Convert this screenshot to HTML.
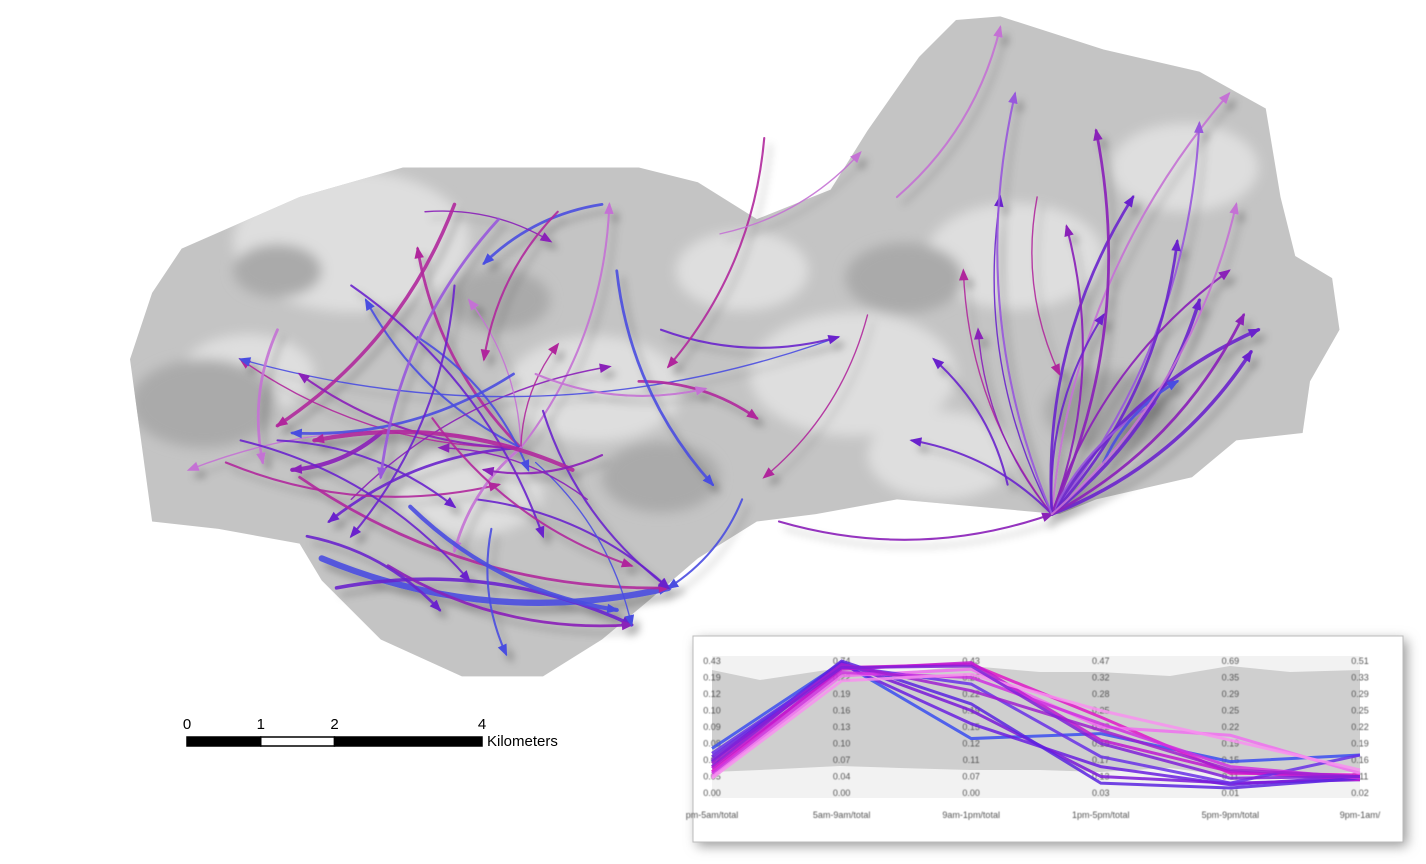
<!DOCTYPE html>
<html><head><meta charset="utf-8">
<style>
html,body{margin:0;padding:0;background:#fff;width:1426px;height:864px;overflow:hidden;font-family:"Liberation Sans",sans-serif}
svg{position:absolute;left:0;top:0}
</style></head>
<body>
<svg id="map" width="1426" height="864">
<defs>
<filter id="sh" x="-20%" y="-20%" width="140%" height="140%"><feDropShadow dx="6" dy="7" stdDeviation="4" flood-color="#000" flood-opacity="0.3"/></filter>
<filter id="bl"><feGaussianBlur stdDeviation="6"/></filter>
<filter id="tb"><feGaussianBlur stdDeviation="0.4"/></filter>
</defs>
<g id="base"></g>
<g id="flows" filter="url(#sh)"></g>
<g id="scalebar"></g>
<g id="pc"></g>
</svg>
<script>
// ---- map data (km, origin at map corner) ----
const outlineKm=[[0,4.6],[0.3,3.7],[0.7,3.1],[2.3,2.4],[3.7,2.0],[5.4,2.0],[6.9,2.0],[7.7,2.2],[8.5,2.7],[9.5,2.3],[10.0,1.5],[10.7,0.5],[11.2,0.0],[11.8,-0.05],[13.2,0.4],[14.5,0.7],[15.4,1.2],[15.6,2.4],[15.8,3.2],[16.3,3.5],[16.4,4.2],[16.0,4.9],[15.9,5.6],[15.0,5.7],[14.4,6.2],[13.1,6.5],[12.6,6.7],[10.4,6.5],[9.3,6.7],[8.5,6.8],[7.7,7.3],[7.0,7.9],[6.4,8.4],[5.6,8.9],[4.5,8.9],[3.4,8.4],[2.6,7.6],[2.3,7.1],[1.2,6.9],[0.3,6.8],[0.15,5.7]];
const patchKm=[[3.0,3.0,1.6],[6.3,5.0,1.2],[9.8,4.8,1.4],[12.0,3.2,1.2],[4.6,6.4,1.0],[14.3,2.0,1.0],[1.6,4.8,0.9],[8.3,3.4,0.9],[11.0,5.9,1.0]];
const darkKm=[[1.0,5.2,1.0],[7.2,6.2,0.8],[10.5,3.5,0.8],[13.3,5.3,0.9],[5.0,3.8,0.7],[2.0,3.4,0.6]];
const flowFrom=[[12.5,6.7],[12.5,6.7],[12.5,6.7],[12.5,6.7],[12.5,6.7],[12.5,6.7],[12.5,6.7],[12.5,6.7],[12.5,6.7],[12.5,6.7],[12.5,6.7],[12.5,6.7],[12.5,6.7],[12.5,6.7],[12.5,6.7],[12.5,6.7],[12.5,6.7],[8.8,6.8],
[5.3,5.8],[5.3,5.8],[5.3,5.8],[5.3,5.8],[5.3,5.8],[5.3,5.8],[3.0,6.5],[5.3,5.8],[5.3,5.8],
[2.6,7.3],[4.7,6.5],[2.3,6.2],[8.3,6.5],[5.6,5.3],[2.8,7.7],[3.5,7.4],[5.5,6.0],[4.9,6.9],
[9.6,4.3],[6.4,2.5],[5.2,4.8],[7.2,4.2],[8.6,1.6],[10.4,2.4],[6.9,4.9],[5.5,4.8],[10.0,4.0],[12.3,2.4],[4.0,2.6],[1.3,6.0],[2.0,5.7],[6.2,6.5],[3.9,4.3],[8.0,2.9],
[4.4,2.5],[5.8,2.6],[5.3,5.8],[5.3,5.8],[3.0,3.6],[2.0,4.2],[3.4,5.6],[6.0,6.1],[4.4,3.6],[5.0,2.7],[2.4,7.0],[3.8,6.6],[6.4,5.9],[4.1,5.4],[1.5,5.7],[6.6,3.4],[13.2,6.0],[11.9,6.3],[12.5,6.7],[12.5,6.7]];
const flowTo=[[14.9,1.0],[14.5,1.4],[13.6,2.4],[13.1,1.5],[15.3,4.2],[15.2,4.5],[14.9,3.4],[14.2,3.0],[11.3,3.4],[10.6,5.7],[13.9,5.2],[12.7,2.8],[11.8,2.4],[14.5,3.8],[13.2,4.0],[15.1,4.0],[11.5,4.2],[12.5,6.7],
[1.5,4.6],[6.5,2.5],[3.9,3.1],[0.8,6.1],[3.2,3.8],[2.7,6.8],[6.5,4.7],[4.6,3.8],[5.8,4.4],
[7.3,7.7],[7.3,7.7],[7.3,7.7],[7.3,7.7],[7.3,7.7],[6.8,8.2],[6.8,8.2],[6.8,8.2],[5.1,8.6],
[1.5,4.6],[4.8,3.3],[2.2,5.6],[9.6,4.3],[7.3,4.7],[11.8,0.1],[8.5,5.4],[7.8,5.0],[8.6,6.2],[12.6,4.8],[5.7,3.0],[5.0,6.3],[4.4,6.6],[4.2,5.8],[5.4,6.1],[9.9,1.8],
[2.0,5.5],[4.8,4.6],[2.3,4.8],[4.4,7.2],[5.6,7.0],[1.8,6.0],[2.2,6.1],[2.5,5.7],[3.0,7.0],[3.4,6.2],[4.2,8.0],[6.6,8.0],[4.8,6.1],[6.8,7.4],[4.6,7.6],[7.9,6.3],[14.2,4.9],[10.9,4.6],[12.0,1.0],[15.0,2.5]];
const flowColor=[4,5,1,2,1,1,2,1,3,1,5,2,1,1,1,2,2,2, 3,4,3,4,0,1,2,4,3, 0,1,3,0,1,1,2,0,0, 0,0,0,1,3,4,3,4,3,3,2,3,1,2,0,4, 3,3,2,4,1,4,2,3,1,5,1,0,2,3,1,0,0,1,5,4];
const flowWidth=[3,3,4,4,5,5,3,4,2,3,3,3,2,5,3,4,2,3, 2,3,4,2,3,4,2,2,2, 9,3,4,3,3,5,4,2,3, 2,4,4,3,3,3,4,3,2,2,2,3,3,2,3,2, 5,3,3,4,3,4,6,6,3,4,4,6,3,3,3,4,4,3,3,3];
const palette=['#4a4ee0','#6a24cc','#8a20b8','#b0289c','#c472d4','#9858dc'];
const kmPx=73.75, ox=130, oy=20;
function X(k){return ox+k*kmPx;} function Y(k){return oy+k*kmPx;}
const NS='http://www.w3.org/2000/svg';
function mk(t,a,p){const e=document.createElementNS(NS,t);for(const k in a)e.setAttribute(k,a[k]);p.appendChild(e);return e;}
const base=document.getElementById('base');
const poly=mk('polygon',{points:outlineKm.map(p=>X(p[0])+','+Y(p[1])).join(' '),fill:'#c4c4c4'},base);


mk('clipPath',{id:'cp'},base).appendChild(poly.cloneNode());
const pg=mk('g',{'clip-path':'url(#cp)',filter:'url(#bl)'},base);
patchKm.forEach(p=>{const c=mk('ellipse',{cx:X(p[0]),cy:Y(p[1]),rx:p[2]*kmPx,ry:p[2]*kmPx*0.6,fill:'#dedede'},pg);

});
darkKm.forEach(p=>{const c=mk('ellipse',{cx:X(p[0]),cy:Y(p[1]),rx:p[2]*kmPx,ry:p[2]*kmPx*0.6,fill:'#aaaaaa'},pg);

});
const fg=document.getElementById('flows');
const defs=document.querySelector('defs');
palette.forEach((c,i)=>{const m=mk('marker',{id:'ah'+i,viewBox:'0 0 10 10',refX:'8',refY:'5',markerWidth:'16',markerHeight:'12',orient:'auto',markerUnits:'userSpaceOnUse'},defs);
mk('path',{d:'M0,1 L10,5 L0,9 Z',fill:c},m);});
flowFrom.forEach((f,i)=>{const t=flowTo[i];
const x1=X(f[0]),y1=Y(f[1]),x2=X(t[0]),y2=Y(t[1]);
const dx=x2-x1,dy=y2-y1,s=(i%2?0.16:-0.16);
const cx=(x1+x2)/2-dy*s,cy=(y1+y2)/2+dx*s;
const p=mk('path',{d:`M${x1},${y1} Q${cx},${cy} ${x2},${y2}`,fill:'none',stroke:palette[flowColor[i]],'stroke-width':flowWidth[i]*0.7,'stroke-opacity':0.9,'marker-end':`url(#ah${flowColor[i]})`,'stroke-linecap':'round'},fg);

});
// ---- scale bar ----
const scaleTicks=[0,1,2,4];
const sb=document.getElementById('scalebar');
const sbx=187, sby=737;
[[0,1,'#000'],[1,2,'#fff'],[2,4,'#000']].forEach(s=>{const r=mk('rect',{x:sbx+s[0]*kmPx,y:sby,width:(s[1]-s[0])*kmPx,height:9,fill:s[2],stroke:'#000','stroke-width':1.5},sb);

});
scaleTicks.forEach(v=>{const t=mk('text',{x:sbx+v*kmPx,y:sby-8,'text-anchor':'middle','font-size':15,fill:'#000'},sb);t.textContent=v;

});
const kt=mk('text',{x:487,y:746,'font-size':15,fill:'#000'},sb);kt.textContent='Kilometers';


// ---- parallel coordinates inset ----
const pcAxes=['pm-5am/total','5am-9am/total','9am-1pm/total','1pm-5pm/total','5pm-9pm/total','9pm-1am/'];
const pcTicks=[['0.00','0.05','0.07','0.08','0.09','0.10','0.12','0.19','0.43'],
['0.00','0.04','0.07','0.10','0.13','0.16','0.19','0.22','0.74'],
['0.00','0.07','0.11','0.12','0.15','0.19','0.22','0.26','0.43'],
['0.03','0.13','0.17','0.19','0.22','0.25','0.28','0.32','0.47'],
['0.01','0.11','0.15','0.19','0.22','0.25','0.29','0.35','0.69'],
['0.02','0.11','0.16','0.19','0.22','0.25','0.29','0.33','0.51']];
const pcSeries=[[2.7,7.9,3.3,3.6,1.9,2.3],[2.2,7.8,4.2,1.6,0.5,1.0],[1.6,7.9,5.0,1.0,0.6,0.8],[1.3,7.6,7.8,4.6,1.2,1.1],[1.0,7.1,7.5,4.0,3.5,1.2],[1.5,7.5,7.9,3.2,1.3,0.8],[1.9,8.0,5.4,0.6,0.3,0.9],[2.4,7.7,6.6,2.2,0.6,2.3],[1.2,7.3,7.0,4.2,1.6,0.9],[1.8,7.8,6.2,3.8,1.4,1.0],[0.9,6.8,7.2,5.0,3.2,1.4],[2.0,7.6,7.7,3.0,0.9,1.0]];
const pcColors=['#3a4ef0','#6a1ee0','#7a18d8','#e018c8','#f070f0','#c018d0','#5a24e0','#6830e8','#d030e0','#a020d0','#f890f0','#8020d8'];
const pc=document.getElementById('pc');
mk('rect',{x:697,y:640,width:710,height:206,fill:'#999',filter:'url(#bl)'},pc);
const box=mk('rect',{x:693,y:636,width:710,height:206,fill:'#fff',stroke:'#bbb'},pc);


mk('rect',{x:712,y:656,width:648,height:142,fill:'#f2f2f2'},pc);
const axX=i=>712+i*129.6, lvY=v=>793-v*16.5;
const gb=mk('polygon',{points:'712,670 760,680 840,668 900,672 970,666 1040,672 1100,672 1170,676 1230,666 1290,672 1360,670 1360,772 1290,775 1230,776 1170,768 1100,772 1040,770 970,770 900,768 840,766 760,770 712,772',fill:'#cfcfcf'},pc);


const tg=mk('g',{filter:'url(#tb)'},pc);
pcAxes.forEach((a,i)=>{
pcTicks[i].forEach((t,j)=>{const e=mk('text',{x:axX(i),y:lvY(j)+3,'text-anchor':'middle','font-size':9,fill:'#555'},tg);e.textContent=t;

});
const l=mk('text',{x:axX(i),y:818,'text-anchor':'middle','font-size':9,fill:'#555'},tg);l.textContent=a;

});
pcSeries.forEach((s,k)=>{const pl=mk('polyline',{points:s.map((v,i)=>axX(i)+','+lvY(v)).join(' '),fill:'none',stroke:pcColors[k],'stroke-width':3,'stroke-opacity':0.85},pc);

});
</script>
</body></html>
